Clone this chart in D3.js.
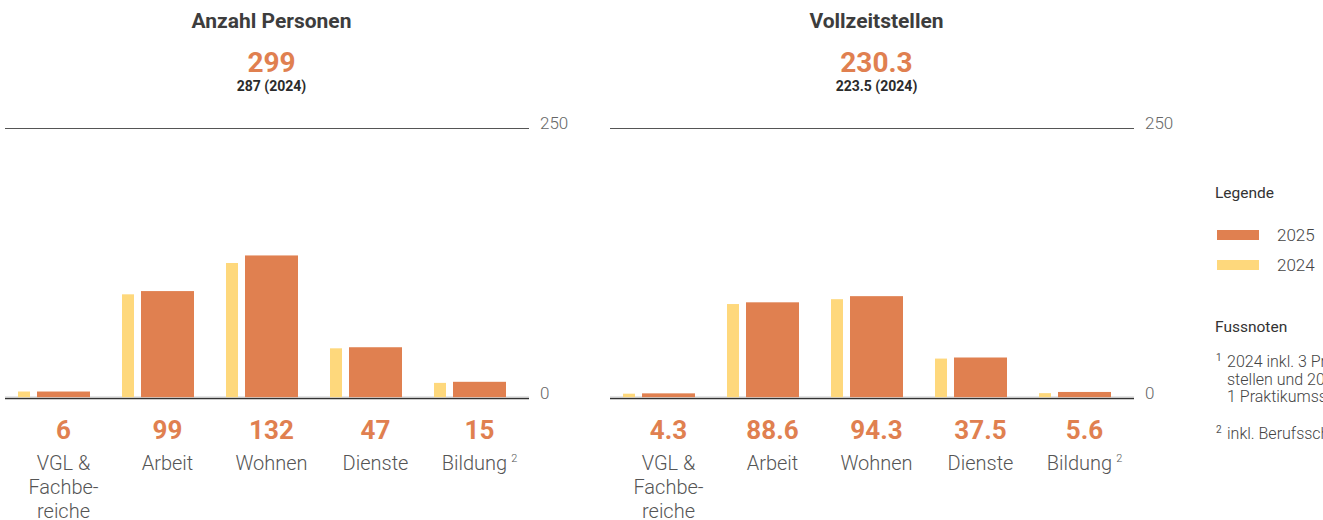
<!DOCTYPE html>
<html>
<head>
<meta charset="utf-8">
<script src="https://cdn.jsdelivr.net/npm/d3@7"></script>
<style>
  html, body { margin: 0; padding: 0; background: #fff; overflow: hidden; }
  svg { display: block; font-family: "Roboto", "Inter", sans-serif; }
</style>
</head>
<body>
<svg width="1323" height="520"></svg>
<script>
// data
const categories = [["VGL &", "Fachbe-", "reiche"], ["Arbeit"], ["Wohnen"], ["Dienste"], ["Bildung"]];
const catNotes = ["", "", "", "", "2"];
const personen2025 = [6, 99, 132, 47, 15];
const personen2024 = [6, 96, 125, 46, 14];
const stellen2025 = [4.3, 88.6, 94.3, 37.5, 5.6];
const stellen2024 = [4, 87, 91.5, 36.5, 4.5];
const yTicks = [0, 250];
const legendYears = ["2025", "2024"];
const footnotes = [
	["1", ["2024 inkl. 3 Praktikums-", "stellen und 2025 inkl.", "1 Praktikumsstelle"]],
	["2", ["inkl. Berufsschule"]]
];

const orange = "#e08050";
const yellow = "#fed87c";

const svg = d3.select("svg");

const y = d3.scaleLinear().domain([0, 250]).range([398, 128]);

function drawChart(x0, title, cur, prev, fmt) {
	const g = svg.append("g");
	const x = d3.scaleBand().domain(d3.range(categories.length)).range([x0 - 3, x0 + 517]);
	const centre = (i) => x(i) + 16 + 12 + 7 + 26.5;

	// axis lines + ticks
	const axis = g.append("g")
		.attr("transform", `translate(${x0 + 524},0)`)
		.call(d3.axisRight(y).tickValues(yTicks).tickSize(-524).tickPadding(11));
	axis.select(".domain").remove();
	axis.selectAll(".tick line").attr("stroke", (d) => (d === 0 ? "#333" : "#555"))
		.attr("stroke-width", (d) => (d === 0 ? 1.6 : 1));
	axis.selectAll(".tick text")
		.attr("dy", 0)
		.attr("fill", "#666")
		.style("font-size", "17px")
		.style("font-weight", 300)
		.style("font-family", "Roboto, sans-serif");

	g.append("line")
		.attr("x1", x0).attr("x2", x0 + 524)
		.attr("y1", y(0) - 1.5).attr("y2", y(0) - 1.5)
		.attr("stroke", "#e6e6e6").attr("stroke-width", 1);

	// bars
	g.selectAll("rect.prev")
		.data(prev)
		.enter()
		.append("rect")
		.attr("class", "prev")
		.attr("x", (_, i) => x(i) + 16)
		.attr("width", 12)
		.attr("y", (d) => y(d))
		.attr("height", (d) => y(0) - y(d) - 0.8)
		.attr("fill", yellow);

	g.selectAll("rect.cur")
		.data(cur)
		.enter()
		.append("rect")
		.attr("class", "cur")
		.attr("x", (_, i) => x(i) + 35)
		.attr("width", 53)
		.attr("y", (d) => y(d))
		.attr("height", (d) => y(0) - y(d) - 0.8)
		.attr("fill", orange);

	// value labels
	g.selectAll("text.val")
		.data(cur)
		.enter()
		.append("text")
		.attr("class", "val")
		.attr("x", (_, i) => centre(i))
		.attr("y", 439)
		.attr("text-anchor", "middle")
		.attr("fill", orange)
		.style("font-size", "26px")
		.style("font-weight", 700)
		.text((d) => fmt(d));

	// category labels
	const cats = g.selectAll("text.cat")
		.data(categories)
		.enter()
		.append("text")
		.attr("class", "cat")
		.attr("x", (_, i) => centre(i))
		.attr("y", 470)
		.attr("text-anchor", "middle")
		.attr("fill", "#555")
		.style("font-size", "20px")
		.style("font-weight", 300);
	cats.each(function (lines, i) {
		const t = d3.select(this);
		lines.forEach((l, j) => {
			t.append("tspan").attr("x", centre(i)).attr("dy", j === 0 ? 0 : 24).text(l);
		});
		if (catNotes[i]) {
			t.append("tspan").attr("dx", 4).attr("dy", -8).style("font-size", "11px").text(catNotes[i]);
		}
	});

	// headings
	const mid = centre(2);
	g.append("text")
		.attr("x", mid).attr("y", 28)
		.attr("text-anchor", "middle")
		.attr("fill", "#3d3d3d")
		.style("font-size", "21px")
		.style("font-weight", 700)
		.text(title);
	g.append("text")
		.attr("x", mid).attr("y", 72)
		.attr("text-anchor", "middle")
		.attr("fill", orange)
		.style("font-size", "28px")
		.style("font-weight", 700)
		.text(fmt(d3.sum(cur)));
	g.append("text")
		.attr("x", mid).attr("y", 91)
		.attr("text-anchor", "middle")
		.attr("fill", "#2b2b2b")
		.style("font-size", "14px")
		.style("font-weight", 700)
		.text(`${fmt(d3.sum(prev))} (2024)`);
}

drawChart(5, "Anzahl Personen", personen2025, personen2024, d3.format("d"));
drawChart(610, "Vollzeitstellen", stellen2025, stellen2024, d3.format(".1f"));

// legend
const legend = svg.append("g").attr("transform", "translate(1215,0)");
legend.append("text")
	.attr("x", 0).attr("y", 198)
	.attr("fill", "#333")
	.style("font-size", "15.5px")
	.text("Legende");

const legendItems = legend.selectAll("g.item")
	.data(legendYears)
	.enter()
	.append("g")
	.attr("class", "item")
	.attr("transform", (_, i) => `translate(0, ${230 + i * 30})`);
legendItems.append("rect")
	.attr("x", 2).attr("y", 0)
	.attr("width", 42).attr("height", 10)
	.attr("fill", (_, i) => (i === 0 ? orange : yellow));
legendItems.append("text")
	.attr("x", 62).attr("y", 11)
	.attr("fill", "#444")
	.style("font-size", "17px")
	.style("font-weight", 300)
	.text((d) => d);

legend.append("text")
	.attr("x", 0).attr("y", 332)
	.attr("fill", "#333")
	.style("font-size", "15.5px")
	.text("Fussnoten");

let fy = 367;
footnotes.forEach(([mark, lines]) => {
	legend.append("text")
		.attr("x", 1).attr("y", fy - 6)
		.attr("fill", "#555")
		.style("font-size", "10px")
		.text(mark);
	const t = legend.append("text")
		.attr("x", 12).attr("y", fy)
		.attr("fill", "#444")
		.style("font-size", "16px")
		.style("font-weight", 300);
	lines.forEach((l, j) => {
		t.append("tspan").attr("x", 12).attr("dy", j === 0 ? 0 : 17.5).text(l);
	});
	fy += lines.length * 17.5 + 19;
});
</script>
</body>
</html>
